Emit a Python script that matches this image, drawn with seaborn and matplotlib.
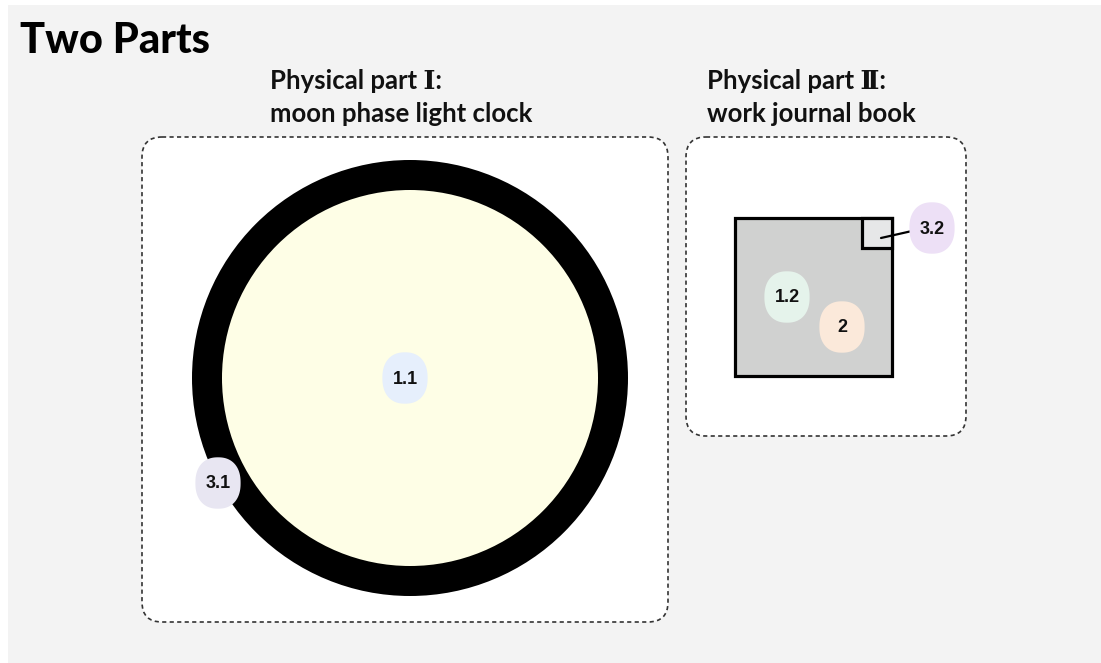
import numpy as np
import pandas as pd
import matplotlib
matplotlib.use("Agg")
import matplotlib.pyplot as plt
from matplotlib.patches import Rectangle, Circle, FancyBboxPatch
from matplotlib.path import Path
import seaborn as sns

# Diagram content
title = "Two Parts"
part_line1 = ["Physical part \u2160:", "Physical part \u2161:"]
part_line2 = ["moon phase light clock", "work journal book"]
badge_labels = ["1.1", "3.1", "1.2", "2", "3.2"]
badge_colors = ["#e6effc", "#e8e6f2", "#e5f3eb", "#fbe9da", "#ede0f6"]
badge_x = [405, 218, 787, 842, 932]
badge_y = [378, 483, 297, 327, 228]

W, H = 1101, 663
sns.set_theme(style="white")
plt.rcParams['font.family'] = ['Lato', 'DejaVu Sans']

fig = plt.figure(figsize=(W / 100, H / 100), dpi=100, facecolor="white")
ax = fig.add_axes([0, 0, 1, 1])
ax.set_xlim(0, W)
ax.set_ylim(H, 0)
ax.set_aspect("equal")
ax.axis("off")

# page background
ax.add_patch(Rectangle((8, 5), W, H, facecolor="#f3f3f3", edgecolor="none", zorder=0))

# title
ax.text(20, 53, title, fontsize=30, fontweight="black", color="black",
        ha="left", va="baseline", family=["Lato", "DejaVu Sans"])

# part headings
for tx, l1, l2 in zip([270, 707], part_line1, part_line2):
    ax.text(tx, 89, l1, fontsize=18.5, fontweight="bold", color="#111111",
            ha="left", va="baseline", family=["Lato", "DejaVu Serif"])
    ax.text(tx, 122, l2, fontsize=18.5, fontweight="bold", color="#111111",
            ha="left", va="baseline", family=["Lato", "DejaVu Serif"])

# dashed rounded containers
for (x0, y0, x1, y1) in [(142, 137, 668, 622), (686, 137, 966, 436)]:
    ax.add_patch(FancyBboxPatch((x0, y0), x1 - x0, y1 - y0,
                                boxstyle="round,pad=0,rounding_size=20",
                                facecolor="white", edgecolor="#333333",
                                linewidth=1.2, linestyle=(0, (2.5, 2)), zorder=1))

# moon phase clock ring
ax.add_patch(Circle((410, 378), 218, facecolor="black", edgecolor="none", zorder=2))
ax.add_patch(Circle((410, 378), 188, facecolor="#fefee6", edgecolor="none", zorder=3))

# journal book
ax.add_patch(Rectangle((735, 218), 157, 158, facecolor="#d0d1d0",
                       edgecolor="black", linewidth=2.3, zorder=2))
ax.add_patch(Rectangle((862, 218), 30, 30, facecolor="#e6e7e8",
                       edgecolor="black", linewidth=2.3, zorder=3))
ax.plot([881, 912], [238, 231], color="black", linewidth=1.6, zorder=3)

# badge marker: rounded pill shape, a bit taller than wide
t = np.linspace(0, 2 * np.pi, 120)
n = 2.3
sx = 0.88 * np.sign(np.cos(t)) * np.abs(np.cos(t)) ** (2 / n)
sy = np.sign(np.sin(t)) * np.abs(np.sin(t)) ** (2 / n)
pill = Path(np.column_stack([sx, sy]), closed=True)

df = pd.DataFrame({"x": badge_x, "y": badge_y, "label": badge_labels})
sns.scatterplot(data=df, x="x", y="y", hue="label", palette=badge_colors,
                hue_order=badge_labels, marker=pill, s=37 ** 2,
                linewidth=0, legend=False, ax=ax, zorder=5)
for x, y, lab in zip(badge_x, badge_y, badge_labels):
    ax.text(x, y + 1, lab, fontsize=13, fontweight="bold", color="#111111",
            ha="center", va="center", family=["Liberation Sans", "DejaVu Sans"],
            zorder=6)

ax.set_xlim(0, W)
ax.set_ylim(H, 0)
ax.set_xlabel("")
ax.set_ylabel("")

fig.savefig("out.png", dpi=100, facecolor="white")
